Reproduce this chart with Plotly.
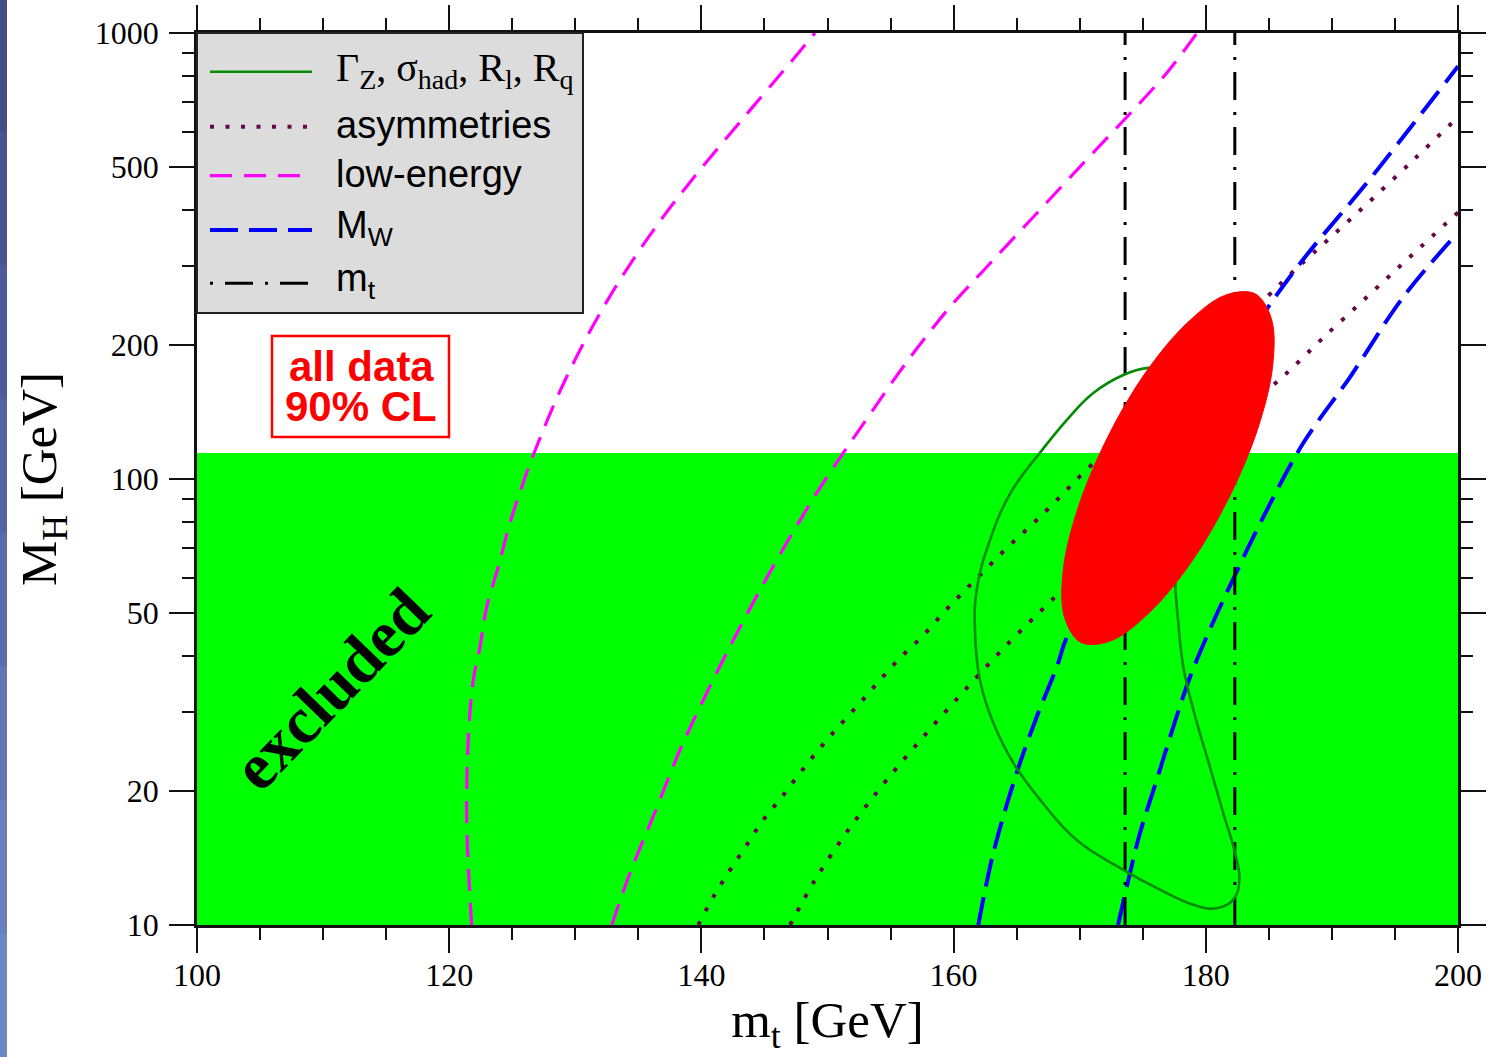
import plotly.graph_objects as go

# ---------------- data ----------------
mt_ticks = [100, 120, 140, 160, 180, 200]
mh_ticks = [10, 20, 50, 100, 200, 500, 1000]
mh_minor = [30, 40, 60, 70, 80, 90, 300, 400, 600, 700, 800, 900]

# LEP direct-search lower bound on M_H
mh_excluded = 114.4

# direct top-mass measurement band (edges)
mt_band = [173.6, 182.3]

# Gamma_Z, sigma_had, R_l, R_q contour (closed)
gz_mt = [176.53, 175.31, 173.46, 171.08, 168.97, 167.09, 164.55, 162.89, 161.83, 161.70,
         162.09, 163.15, 164.73, 166.85, 169.76, 173.46, 176.37, 179.01, 180.86,
         182.18, 182.66, 182.32, 181.39, 180.33, 179.01, 178.22, 177.82, 177.56,
         178.11, 176.53]
gz_mh = [175.5, 177.3, 171.1, 155.9, 135.6, 116.8, 93.4, 73.0, 56.4, 45.2,
         35.4, 28.4, 23.1, 19.1, 15.5, 13.3, 12.0, 11.1, 10.9,
         11.4, 12.6, 14.5, 17.8, 22.6, 30.4, 37.9, 47.6, 61.5,
         104.8, 175.5]

# asymmetries band edges
asym_a_mt = [139.75, 140.94, 142.27, 143.59, 144.91, 146.37, 147.82, 149.41, 150.99,
             152.58, 154.16, 155.75, 157.47, 159.18, 160.77, 162.49, 164.21, 165.92,
             167.64, 170.29, 185.01, 186.73, 188.53, 192.09, 196.46, 200.0]
asym_a_mh = [10.0, 11.56, 13.28, 15.12, 17.20, 19.36, 21.92, 24.94, 28.08,
             31.46, 35.42, 39.69, 44.23, 50.08, 55.80, 62.52, 70.0, 77.66,
             86.5, 103.2, 258.6, 288.2, 321.1, 396.8, 519.0, 648.0]
asym_b_mt = [147.03, 149.01, 151.65, 154.56, 157.73, 160.90, 164.21, 167.64, 168.44,
             184.93, 186.68, 189.29, 192.86, 196.35, 200.0]
asym_b_mh = [10.0, 12.61, 16.33, 20.92, 26.67, 33.65, 42.45, 53.0, 55.8,
             158.3, 175.5, 207.1, 257.2, 317.9, 396.0]

# low-energy band edges
low_a_mt = [121.78, 121.39, 121.51, 121.91, 122.44, 122.97, 123.89, 124.82, 125.75,
            126.67, 128.79, 131.17, 133.54, 136.32, 139.49, 143.06, 146.63, 149.01]
low_a_mh = [10.0, 16.93, 26.0, 35.4, 42.0, 51.6, 63.5, 79.7, 95.9,
            113.2, 157.5, 214.7, 279.4, 365.4, 478.0, 631.6, 830.6, 1000.0]
low_b_mt = [132.89, 134.34, 136.32, 138.30, 140.42, 142.53, 144.65, 147.03, 149.14,
            151.25, 153.11, 156.28, 159.71, 162.63, 166.32, 170.29, 173.73, 176.90,
            179.30]
low_b_mh = [10.0, 13.08, 17.92, 24.68, 33.13, 43.55, 56.38, 74.1, 93.0,
            114.4, 136.3, 182.9, 243.0, 298.8, 386.8, 510.9, 648.0, 813.4,
            1000.0]

# M_W band edges
mw_a_mt = [161.96, 163.15, 165.00, 166.59, 168.18, 169.23, 185.62, 193.28, 200.0]
mw_a_mh = [10.0, 14.50, 21.92, 29.27, 37.88, 45.85, 258.6, 480.5, 842.0]
mw_b_mt = [173.04, 173.73, 174.78, 176.11, 177.42, 178.75, 180.20, 181.39, 184.56,
           187.73, 191.44, 195.66, 200.0]
mw_b_mh = [10.0, 12.17, 16.08, 21.14, 27.80, 35.98, 45.15, 53.55, 82.2,
           120.4, 169.3, 255.9, 357.0]

# all data, 90% CL region
all_mt = [183.9, 185.2, 185.3, 184.1, 181.8, 178.8, 175.5, 172.5, 170.1,
          168.8, 168.7, 169.9, 172.2, 175.2, 178.5, 181.5, 183.9]
all_mh = [260.3, 228.8, 179.0, 129.2, 90.4, 64.8, 50.1, 43.4, 43.0,
          48.9, 62.6, 86.7, 123.8, 172.8, 223.4, 258.0, 260.3]

# ---------------- styles ----------------
C_EXCL = "#00ff00"
C_GZ = "#008b00"
C_ASYM = "#670748"
C_LOW = "#ff00ff"
C_MW = "#0000ff"
C_MT = "#000000"
C_ALL = "#ff0000"
C_LEG = "#dcdcdc"

DASH_ASYM = "4px,11.5px"
DASH_LOW = "22px,12px"
DASH_MW = "28px,11px"
DASH_MT = "28px,12px,3px,12px"

SERIF = "Liberation Serif"
SANS = "Liberation Sans"

# plot-area geometry in pixels (figure 1488 x 1057)
W, H = 1488, 1057
L, R, T, B = 197, 1458, 33, 925


def px(x):
    return (x - L) / (R - L)


def py(y):
    return (B - y) / (B - T)


fig = go.Figure()

# excluded region below the direct search bound
fig.add_trace(go.Scatter(
    x=[mt_ticks[0], mt_ticks[-1], mt_ticks[-1], mt_ticks[0], mt_ticks[0]],
    y=[mh_ticks[0], mh_ticks[0], mh_excluded, mh_excluded, mh_ticks[0]],
    mode="lines", fill="toself", fillcolor=C_EXCL, line=dict(width=0),
    hoverinfo="skip"))


def curve(xs, ys, color, width, dash, shape="spline", smoothing=1.0):
    fig.add_trace(go.Scatter(
        x=xs, y=ys, mode="lines",
        line=dict(color=color, width=width, dash=dash, shape=shape, smoothing=smoothing),
        hoverinfo="skip"))


curve(low_a_mt, low_a_mh, C_LOW, 3.2, DASH_LOW)
curve(low_b_mt, low_b_mh, C_LOW, 3.2, DASH_LOW)
curve(asym_a_mt, asym_a_mh, C_ASYM, 4, DASH_ASYM)
curve(asym_b_mt, asym_b_mh, C_ASYM, 4, DASH_ASYM)
curve(mw_a_mt, mw_a_mh, C_MW, 4, DASH_MW)
curve(mw_b_mt, mw_b_mh, C_MW, 4, DASH_MW)
for m in mt_band:
    curve([m, m], [mh_ticks[0], mh_ticks[-1]], C_MT, 3, DASH_MT, shape="linear")
curve(gz_mt, gz_mh, C_GZ, 2.6, "solid", smoothing=1.2)

# combined fit region
fig.add_trace(go.Scatter(
    x=all_mt, y=all_mh, mode="lines", fill="toself", fillcolor=C_ALL,
    line=dict(color=C_ALL, width=1, shape="spline", smoothing=1.0),
    hoverinfo="skip"))

shapes = []
annotations = []

# slide-edge strip on the far left (darker at the top)
strip_cols = ["#6c88c2", "#6780bb", "#6176b2", "#5a6ca9", "#5362a0", "#4d5b98", "#485490", "#434d86"]
n = len(strip_cols)
for i, c in enumerate(strip_cols):
    y0 = -0.16 + i * (1.2 / n)
    shapes.append(dict(type="rect", xref="paper", yref="paper",
                       x0=px(-5), x1=px(7), y0=y0, y1=y0 + 1.2 / n + 0.002,
                       fillcolor=c, line=dict(width=0), layer="above"))

# legend box
shapes.append(dict(type="rect", xref="paper", yref="paper",
                   x0=px(197), x1=px(583), y0=py(313), y1=py(33),
                   fillcolor=C_LEG, line=dict(color="#222222", width=2), layer="above"))

legend_rows = [
    (71.7, C_GZ, 2.6, "solid", "Γ<sub>Z</sub>, σ<sub>had</sub>, R<sub>l</sub>, R<sub>q</sub>", SERIF, 40),
    (126.7, C_ASYM, 4, DASH_ASYM, "asymmetries", SANS, 38),
    (175.7, C_LOW, 3.2, DASH_LOW, "low-energy", SANS, 38),
    (230.0, C_MW, 4, DASH_MW, "M<sub>W</sub>", SANS, 38),
    (283.3, C_MT, 3, "3px,12px,28px,12px", "m<sub>t</sub>", SANS, 38),
]
for yy, col, wd, dsh, txt, fam, fs in legend_rows:
    shapes.append(dict(type="line", xref="paper", yref="paper",
                       x0=px(210), x1=px(312), y0=py(yy), y1=py(yy),
                       line=dict(color=col, width=wd, dash=dsh), layer="above"))
    annotations.append(dict(xref="paper", yref="paper", x=px(334), y=py(yy - 2),
                            xanchor="left", yanchor="middle", showarrow=False,
                            text=txt, font=dict(family=fam, size=fs, color="black")))

# "all data 90% CL" box
shapes.append(dict(type="rect", xref="paper", yref="paper",
                   x0=px(272), x1=px(449), y0=py(437), y1=py(336),
                   fillcolor="white", line=dict(color=C_ALL, width=2.5), layer="above"))
for yy, txt in [(366, "<b>all data</b>"), (406, "<b>90% CL</b>")]:
    annotations.append(dict(xref="paper", yref="paper", x=px(361), y=py(yy),
                            xanchor="center", yanchor="middle", showarrow=False,
                            height=36, valign="middle", text=txt,
                            font=dict(family=SANS, size=42, color=C_ALL)))

# excluded label
annotations.append(dict(xref="paper", yref="paper", x=px(330), y=py(689),
                        xanchor="center", yanchor="middle", showarrow=False,
                        textangle=-46, text="<b>excluded</b>",
                        font=dict(family=SERIF, size=66, color="black")))

axis_common = dict(
    showgrid=False, zeroline=False, showline=True, linecolor="#111111", linewidth=2.5,
    mirror="ticks", ticks="outside", ticklen=25, tickwidth=2, tickcolor="#111111",
    tickfont=dict(family=SERIF, size=32, color="black"), automargin=False,
)

fig.update_layout(
    width=W, height=H,
    margin=dict(l=L, r=W - R, t=T, b=H - B, autoexpand=False),
    paper_bgcolor="white", plot_bgcolor="white",
    showlegend=False,
    shapes=shapes, annotations=annotations,
    xaxis=dict(
        range=[mt_ticks[0], mt_ticks[-1]], tickmode="array", tickvals=mt_ticks,
        ticktext=[str(v) for v in mt_ticks],
        minor=dict(dtick=5, tick0=100, ticks="outside", ticklen=12, tickwidth=2,
                   tickcolor="#111111", showgrid=False),
        title=dict(text="m<sub>t</sub> [GeV]", font=dict(family=SERIF, size=51, color="black"),
                   standoff=10),
        ticklabelstandoff=-5,
        **axis_common),
    yaxis=dict(
        type="log", range=[1, 3], tickmode="array", tickvals=mh_ticks,
        ticktext=[str(v) for v in mh_ticks],
        minor=dict(tickmode="array", tickvals=mh_minor, ticks="outside", ticklen=12,
                   tickwidth=2, tickcolor="#111111", showgrid=False),
        title=dict(text="M<sub>H</sub> [GeV]", font=dict(family=SERIF, size=51, color="black"),
                   standoff=22),
        ticklabelstandoff=4,
        **axis_common),
)

fig.write_html("out.html")
